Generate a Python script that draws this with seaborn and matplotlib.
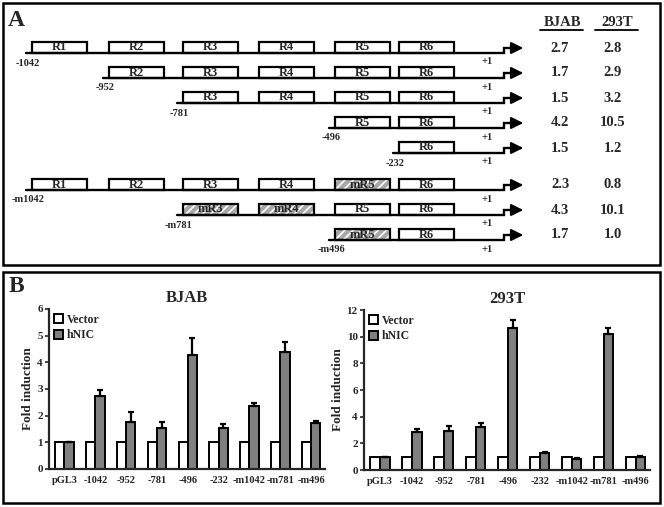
import numpy as np
import pandas as pd
import matplotlib
matplotlib.use("Agg")
import matplotlib.pyplot as plt
from matplotlib.patches import Rectangle
import seaborn as sns

# ---- panel A: promoter constructs ----
construct_labels = ["-1042", "-952", "-781", "-496", "-232", "-m1042", "-m781", "-m496"]
first_region = [0, 1, 2, 4, 5, 0, 2, 4]
mutated_regions = [[], [], [], [], [], [4], [2, 3], [4]]
region_names = ["R1", "R2", "R3", "R4", "R5", "R6"]
bjab_fold = ["2.7", "1.7", "1.5", "4.2", "1.5", "2.3", "4.3", "1.7"]
t293_fold = ["2.8", "2.9", "3.2", "10.5", "1.2", "0.8", "10.1", "1.0"]

# ---- panel B: luciferase assays ----
categories = ["pGL3", "-1042", "-952", "-781", "-496", "-232", "-m1042", "-m781", "-m496"]
vector_bjab = [1.0, 1.0, 1.0, 1.0, 1.0, 1.0, 1.0, 1.0, 1.0]
hnic_bjab = [1.0, 2.75, 1.75, 1.53, 4.28, 1.53, 2.35, 4.38, 1.73]
hnic_bjab_err = [0.0, 0.22, 0.37, 0.25, 0.63, 0.15, 0.13, 0.40, 0.07]
vector_293t = [1.0, 1.0, 1.0, 1.0, 1.0, 1.0, 1.0, 1.0, 1.0]
hnic_293t = [1.0, 2.88, 2.9, 3.2, 10.65, 1.25, 0.85, 10.2, 1.0]
hnic_293t_err = [0.0, 0.2, 0.42, 0.3, 0.6, 0.13, 0.08, 0.42, 0.07]

sns.set_style("ticks")
plt.rcParams["font.family"] = ["Liberation Serif", "DejaVu Serif"]
plt.rcParams["font.weight"] = "bold"
plt.rcParams["hatch.linewidth"] = 1.2

fig = plt.figure(figsize=(6.64, 5.07), dpi=100)

# full-figure axes in pixel units for the schematic and panel frames
ax0 = fig.add_axes([0, 0, 1, 1])
ax0.set_xlim(0, 664)
ax0.set_ylim(507, 0)
ax0.axis("off")

ax0.add_patch(Rectangle((3, 3), 657, 262, fill=False, lw=1.8, ec="black"))
ax0.add_patch(Rectangle((3, 272), 657, 231, fill=False, lw=1.8, ec="black"))
ax0.text(8, 21, "A", fontsize=17, fontweight="bold", va="center")
ax0.text(9, 286, "B", fontsize=17, fontweight="bold", va="center")

box_x = [32, 109, 183, 259, 335, 399]
box_w = 55
box_h = 11
line_end = 504
arrow_tip = 526

for i, lab in enumerate(construct_labels):
    y = 53 + 25 * i + (12 if i >= 5 else 0)
    x0 = box_x[first_region[i]] - 6
    ax0.plot([x0, line_end, line_end, arrow_tip - 9], [y, y, y - 5, y - 5],
             color="black", lw=1.7, solid_joinstyle="miter")
    ax0.annotate("", xy=(arrow_tip, y - 5), xytext=(arrow_tip - 10, y - 5),
                 arrowprops=dict(arrowstyle="-|>,head_length=0.7,head_width=0.35",
                                 color="black", lw=1.6))
    for r in range(first_region[i], 6):
        if r in mutated_regions[i]:
            ax0.add_patch(Rectangle((box_x[r], y - box_h), box_w, box_h,
                                    facecolor="#a8a8a8", hatch="////", edgecolor="white", lw=0))
            name = "m" + region_names[r]
        else:
            ax0.add_patch(Rectangle((box_x[r], y - box_h), box_w, box_h,
                                    facecolor="white", lw=0))
            name = region_names[r]
        ax0.add_patch(Rectangle((box_x[r], y - box_h), box_w, box_h,
                                fill=False, edgecolor="black", lw=1.6))
        ax0.text(box_x[r] + box_w / 2, y - box_h / 2, name, ha="center", va="center",
                 fontsize=9, fontweight="bold")
    ax0.text(x0 + 2, y + 10, lab, ha="center", va="center", fontsize=7.5, fontweight="bold")
    ax0.text(487, y + 9, "+1", ha="center", va="center", fontsize=7.5, fontweight="bold")
    ax0.text(560, y - 5, bjab_fold[i], ha="center", va="center", fontsize=10.5, fontweight="bold")
    ax0.text(613, y - 5, t293_fold[i], ha="center", va="center", fontsize=10.5, fontweight="bold")

ax0.text(562, 23, "BJAB", ha="center", va="center", fontsize=10.5, fontweight="bold")
ax0.text(617, 23, "293T", ha="center", va="center", fontsize=10.5, fontweight="bold")
ax0.plot([540, 583], [30, 30], color="black", lw=1.3)
ax0.plot([595, 638], [30, 30], color="black", lw=1.3)


def bar_panel(ax, vec, hnic, err, title, ymax, step):
    df = pd.DataFrame({
        "construct": categories * 2,
        "fold": vec + hnic,
        "treatment": ["Vector"] * len(categories) + ["hNIC"] * len(categories),
    })
    sns.barplot(data=df, x="construct", y="fold", hue="treatment",
                palette=["white", "#808080"], edgecolor="black", linewidth=1.4,
                width=0.6, errorbar=None, ax=ax)
    bars = ax.containers[1]
    xs = [b.get_x() + b.get_width() / 2 for b in bars]
    hs = [b.get_height() for b in bars]
    ax.errorbar(xs, hs, yerr=[np.zeros(len(err)), err], fmt="none",
                ecolor="black", elinewidth=1.6, capsize=2, capthick=1.6)
    ax.set_ylim(0, ymax)
    ax.set_xlim(-0.5, len(categories) - 0.55)
    ax.set_yticks(np.arange(0, ymax + 0.1, step))
    ax.set_xlabel("")
    ax.set_ylabel("Fold induction", fontsize=9.5, fontweight="bold", labelpad=2)
    ax.set_title(title, fontsize=12, fontweight="bold", pad=5)
    sns.despine(ax=ax)
    ax.spines["left"].set_linewidth(1.6)
    ax.spines["bottom"].set_linewidth(1.6)
    ax.tick_params(axis="x", length=0, labelsize=7.5, pad=5)
    ax.tick_params(axis="y", length=3, width=1.2, labelsize=8, pad=1.5)
    for t in ax.get_xticklabels() + ax.get_yticklabels():
        t.set_fontweight("bold")
    ax.legend(loc="upper left", frameon=False, fontsize=8.5, handlelength=0.8,
              handleheight=0.8, handletextpad=0.3, labelspacing=0.3,
              borderaxespad=0.2, borderpad=0.2, title=None)


ax1 = fig.add_axes([49 / 664, 38 / 507, 276 / 664, 160 / 507])
bar_panel(ax1, vector_bjab, hnic_bjab, hnic_bjab_err, "BJAB", 6, 1)

ax2 = fig.add_axes([364 / 664, 37 / 507, 286 / 664, 160 / 507])
bar_panel(ax2, vector_293t, hnic_293t, hnic_293t_err, "293T", 12, 2)

fig.savefig("out.png", dpi=100)
